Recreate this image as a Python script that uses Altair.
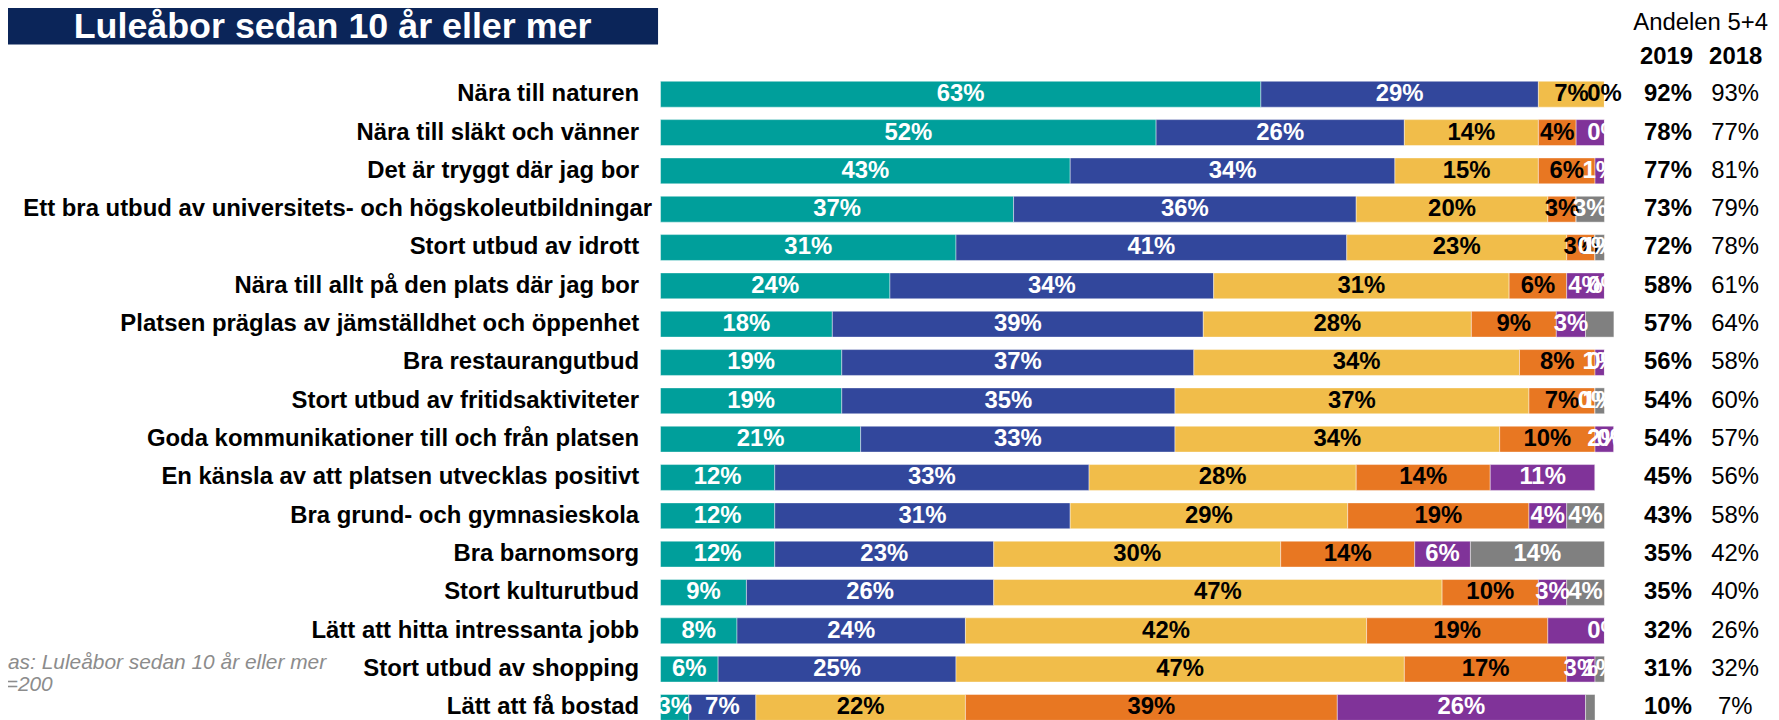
import altair as alt
import pandas as pd

title = "Luleåbor sedan 10 år eller mer"
note = ["Bas: Luleåbor sedan 10 år eller mer", "n=200"]
header = "Andelen 5+4"
years = ["2019", "2018"]

items = [
    "Nära till naturen\u00a0",
    "Nära till släkt och vänner",
    "Det är tryggt där jag bor",
    "Ett bra utbud av universitets- och högskoleutbildningar",
    "Stort utbud av idrott",
    "Nära till allt på den plats där jag bor\u00a0",
    "Platsen präglas av jämställdhet och öppenhet\u00a0",
    "Bra restaurangutbud",
    "Stort utbud av fritidsaktiviteter",
    "Goda kommunikationer till och från platsen",
    "En känsla av att platsen utvecklas positivt\u00a0",
    "Bra grund- och gymnasieskola",
    "Bra barnomsorg\u00a0",
    "Stort kulturutbud",
    "Lätt att hitta intressanta jobb",
    "Stort utbud av shopping",
    "Lätt att få bostad",
]

segments = ["5", "4", "3", "2", "1", "Vet ej"]
seg_colors = ["#009F9B", "#32479C", "#F1BD4A", "#E87722", "#803399", "#808080"]
text_colors = ["#FFFFFF", "#FFFFFF", "#000000", "#000000", "#FFFFFF", "#FFFFFF"]

# segment widths (share in %), per segment
s5 = [63.6, 52.5, 43.4, 37.4, 31.3, 24.3, 18.2, 19.2, 19.2, 21.2, 12.1, 12.1, 12.1, 9.1, 8.1, 6.1, 3.0]
s4 = [29.4, 26.3, 34.4, 36.3, 41.4, 34.3, 39.3, 37.3, 35.3, 33.3, 33.3, 31.3, 23.2, 26.2, 24.2, 25.2, 7.1]
s3 = [7.0, 14.2, 15.2, 20.3, 23.3, 31.3, 28.4, 34.5, 37.5, 34.4, 28.3, 29.4, 30.4, 47.5, 42.5, 47.5, 22.2]
s2 = [0.0, 4.0, 6.0, 3.0, 3.0, 6.1, 9.0, 8.0, 7.0, 10.1, 14.2, 19.2, 14.2, 10.2, 19.2, 17.2, 39.4]
s1 = [0.0, 3.0, 1.0, 0.0, 0.0, 4.0, 3.1, 1.0, 0.0, 2.0, 11.1, 4.0, 5.9, 3.0, 6.0, 3.0, 26.3]
s0 = [0.0, 0.0, 0.0, 3.0, 1.0, 0.0, 3.0, 0.0, 1.0, 0.0, 0.0, 4.0, 14.2, 4.0, 0.0, 1.0, 1.0]

# data labels as printed in the picture ("" = no label shown)
l5 = ["63%", "52%", "43%", "37%", "31%", "24%", "18%", "19%", "19%", "21%", "12%", "12%", "12%", "9%", "8%", "6%", "3%"]
l4 = ["29%", "26%", "34%", "36%", "41%", "34%", "39%", "37%", "35%", "33%", "33%", "31%", "23%", "26%", "24%", "25%", "7%"]
l3 = ["7%", "14%", "15%", "20%", "23%", "31%", "28%", "34%", "37%", "34%", "28%", "29%", "30%", "47%", "42%", "47%", "22%"]
l2 = ["0%", "4%", "6%", "3%", "3%", "6%", "9%", "8%", "7%", "10%", "14%", "19%", "14%", "10%", "19%", "17%", "39%"]
l1 = ["", "", "1%", "", "0%", "4%", "3%", "1%", "0%", "2%", "11%", "4%", "6%", "3%", "", "3%", "26%"]
l0 = ["", "0%", "", "3%", "1%", "0%", "", "0%", "1%", "0%", "", "4%", "14%", "4%", "0%", "1%", ""]

v2019 = ["92%", "78%", "77%", "73%", "72%", "58%", "57%", "56%", "54%", "54%", "45%", "43%", "35%", "35%", "32%", "31%", "10%"]
v2018 = ["93%", "77%", "81%", "79%", "78%", "61%", "64%", "58%", "60%", "57%", "56%", "58%", "42%", "40%", "26%", "32%", "7%"]

FONT = "Liberation Sans, Arial, sans-serif"

rows = []
vals = [s5, s4, s3, s2, s1, s0]
labs = [l5, l4, l3, l2, l1, l0]
for i, it in enumerate(items):
    cum = 0.0
    for k, seg in enumerate(segments):
        v = vals[k][i]
        rows.append({
            "item": it, "segment": seg, "start": cum, "end": cum + v,
            "mid": cum + v / 2, "label": labs[k][i], "tcolor": text_colors[k],
        })
        cum += v
df = pd.DataFrame(rows)
rowdf = pd.DataFrame({"item": items, "v2019": v2019, "v2018": v2018})

xscale = alt.Scale(domain=[0, 100], range=[655.5, 1603.7], nice=False, zero=False)
Y = alt.Y("item:N", sort=items, axis=None,
          scale=alt.Scale(range=[65.75, 720.25], paddingInner=0.325, paddingOuter=0.1625, round=False))

bars = alt.Chart(df).mark_bar(stroke="#FFFFFF", strokeWidth=0.6, strokeOpacity=0.7).encode(
    x=alt.X("start:Q", scale=xscale, axis=None),
    x2="end:Q",
    y=Y,
    color=alt.Color("segment:N", scale=alt.Scale(domain=segments, range=seg_colors), legend=None),
)

seglabels = alt.Chart(df).transform_filter("datum.label != ''").mark_text(
    font=FONT, fontSize=24, fontWeight="bold", baseline="middle", align="center"
).encode(
    x=alt.X("mid:Q", scale=xscale, axis=None),
    y=Y,
    text="label:N",
    color=alt.Color("tcolor:N", scale=None),
)

long_item = items[3]
rowlabels = alt.Chart(rowdf).transform_filter(alt.datum.item != long_item).mark_text(
    font=FONT, fontSize=24, fontWeight="bold", baseline="middle", align="right", color="#000000"
).encode(y=Y, x=alt.value(634), text="item:N")

rowlabel_long = alt.Chart(rowdf).transform_filter(alt.datum.item == long_item).mark_text(
    font=FONT, fontSize=24, fontWeight="bold", baseline="middle", align="right", color="#000000"
).encode(y=Y, x=alt.value(647), text="item:N")

col2019 = alt.Chart(rowdf).mark_text(
    font=FONT, fontSize=24, fontWeight="bold", baseline="middle", align="center", color="#000000"
).encode(y=Y, x=alt.value(1667.5), text="v2019:N")

col2018 = alt.Chart(rowdf).mark_text(
    font=FONT, fontSize=24, baseline="middle", align="center", color="#000000"
).encode(y=Y, x=alt.value(1735), text="v2018:N")

tdf = pd.DataFrame({"t": [title], "h": [header], "y1": [years[0]], "y2": [years[1]]})

title_box = alt.Chart(tdf).mark_rect(color="#0B2559").encode(
    x=alt.value(0), x2=alt.value(653), y=alt.value(-10), y2=alt.value(35)
)
title_text = alt.Chart(tdf).mark_text(
    font=FONT, fontSize=36, fontWeight="bold", color="#FFFFFF", align="center", baseline="alphabetic"
).encode(x=alt.value(326), y=alt.value(29), text="t:N")

head_text = alt.Chart(tdf).mark_text(
    font=FONT, fontSize=24, color="#000000", align="right", baseline="alphabetic"
).encode(x=alt.value(1768), y=alt.value(20), text="h:N")
y1_text = alt.Chart(tdf).mark_text(
    font=FONT, fontSize=24, fontWeight="bold", color="#000000", align="center", baseline="alphabetic"
).encode(x=alt.value(1666), y=alt.value(55), text="y1:N")
y2_text = alt.Chart(tdf).mark_text(
    font=FONT, fontSize=24, fontWeight="bold", color="#000000", align="center", baseline="alphabetic"
).encode(x=alt.value(1735.5), y=alt.value(55), text="y2:N")

note_text = alt.Chart(tdf).mark_text(
    font=FONT, fontSize=21, fontStyle="italic", color="#8C8C8C", align="left",
    baseline="alphabetic", text=note, lineHeight=22
).encode(x=alt.value(-14), y=alt.value(662))

chart = alt.layer(
    title_box, title_text, head_text, y1_text, y2_text, note_text,
    bars, seglabels, rowlabels, rowlabel_long, col2019, col2018,
).properties(
    width=1771, height=712,
    autosize=alt.AutoSizeParams(type="none"),
    padding=0,
    background="#FFFFFF",
).configure_view(stroke=None)

chart.save("out.html", embed_options={"renderer": "svg", "actions": False})
